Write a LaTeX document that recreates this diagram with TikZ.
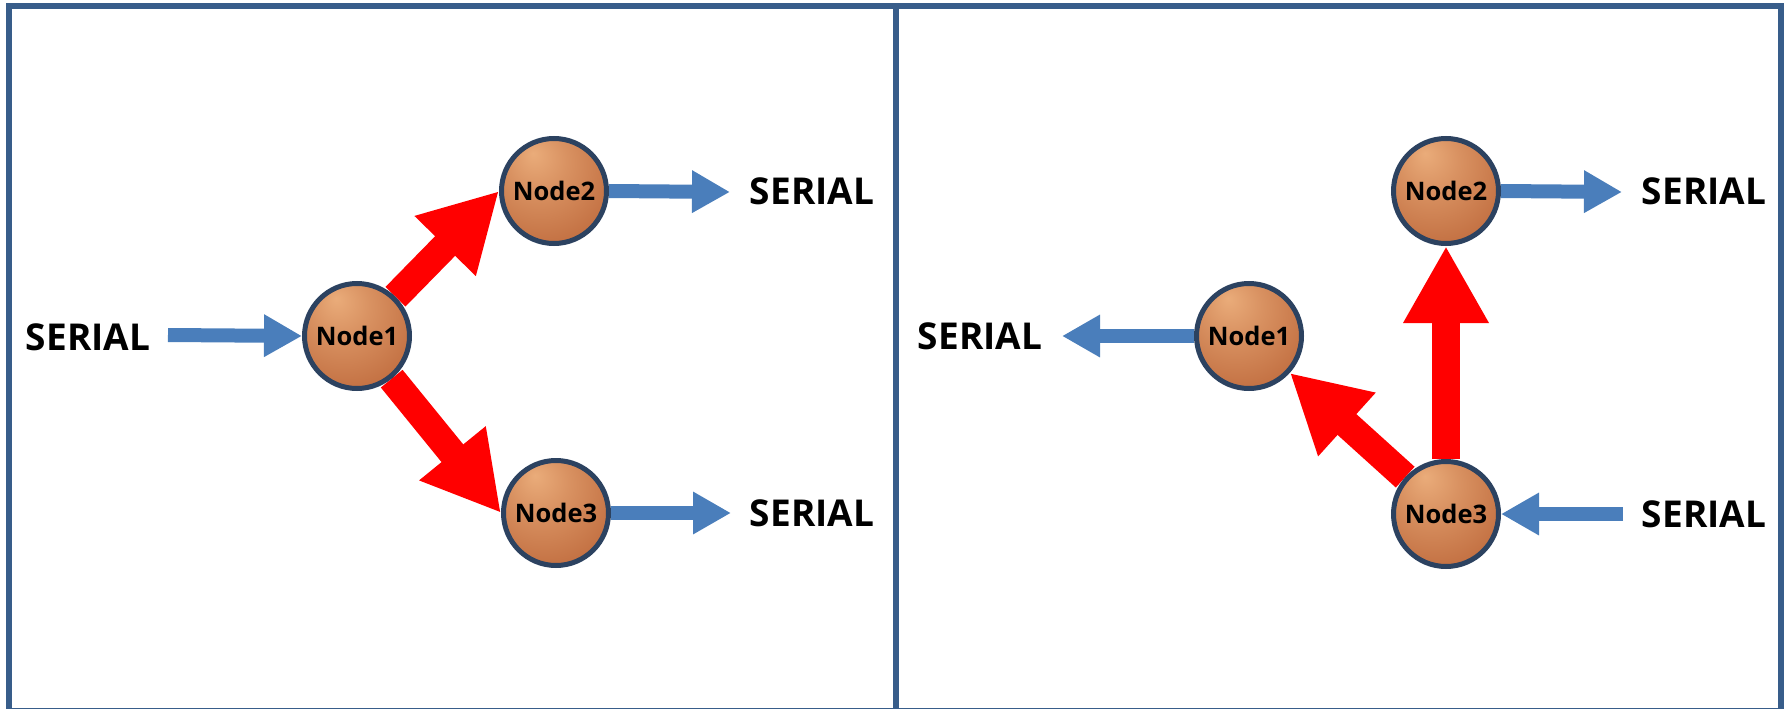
\documentclass[tikz,border=0pt]{standalone}
\usepackage{fontspec}
\setmainfont{Open Sans}
\usetikzlibrary{arrows.meta,backgrounds}

\definecolor{framecol}{RGB}{56,93,138}
\definecolor{flowblue}{RGB}{74,126,187}
\definecolor{ringcol}{RGB}{44,66,96}
\definecolor{peach}{RGB}{234,172,122}
\definecolor{copper}{RGB}{196,114,68}
\definecolor{rust}{RGB}{146,74,36}
\pgfdeclareradialshading{copperball}{\pgfpoint{-10bp}{18bp}}{%
  color(0bp)=(peach); color(14bp)=(peach!55!copper); color(34bp)=(copper);
  color(56bp)=(copper!60!rust); color(70bp)=(rust)}

\tikzset{
  unit/.style={circle, minimum size=105pt, inner sep=0pt, draw=ringcol,
    line width=5pt, shading=copperball,
    font=\bfseries\fontsize{25.5}{25.5}\selectfont},
  lbl/.style={inner sep=0pt, font=\bfseries\fontsize{37}{37}\selectfont},
  redflow/.style={red, line width=28pt, -{Triangle[length=77pt,width=80pt]}},
  blueflow/.style={flowblue, line width=14pt, -{Triangle[length=38pt,width=40pt]}},
  panel/.style={framecol, line width=6pt}
}

\begin{document}
\begin{tikzpicture}[x=1pt, y=-1pt]
\useasboundingbox (0,0) rectangle (1792,709);

% two framed panels
\draw[panel] (9,6) rectangle (1781,711);
\draw[panel] (896,6) -- (896,711);

% ---- left panel ----
\node[unit] (L1) at (357,336) {Node1};
\node[unit] (L2) at (554,191) {Node2};
\node[unit] (L3) at (556,513) {Node3};
\node[lbl] (Lin) at (88,337) {SERIAL};
\node[lbl] (Lout2) at (812,191) {SERIAL};
\node[lbl] (Lout3) at (812,513) {SERIAL};
\coordinate (Lsrc) at (168,335);
\coordinate (Ltip2) at (730,192);
\coordinate (Ltip3) at (731,513);

% ---- right panel ----
\node[unit] (R1) at (1249,336) {Node1};
\node[unit] (R2) at (1446,191) {Node2};
\node[unit] (R3) at (1446,514) {Node3};
\node[lbl] (Rout1) at (980,336) {SERIAL};
\node[lbl] (Rout2) at (1704,191) {SERIAL};
\node[lbl] (Rin3) at (1704,514) {SERIAL};
\coordinate (Rtip1) at (1062,336);
\coordinate (Rtip2) at (1622,192);
\coordinate (Rsrc3) at (1623,514);

\begin{pgfonlayer}{background}
  % serial links
  \draw[blueflow] (Lsrc) -- (L1.west);
  \draw[blueflow] (L2.east) -- (Ltip2);
  \draw[blueflow] (L3.east) -- (Ltip3);
  \draw[blueflow] (R1.west) -- (Rtip1);
  \draw[blueflow] (R2.east) -- (Rtip2);
  \draw[blueflow] (Rsrc3) -- (R3.east);
  % node-to-node transfers
  \draw[redflow] (L1) -- (L2.west);
  \draw[redflow] (L1) -- (L3.west);
  \draw[redflow] (R3) -- (R2.south);
  \draw[redflow] (R3) -- (R1);
\end{pgfonlayer}
\end{tikzpicture}
\end{document}
